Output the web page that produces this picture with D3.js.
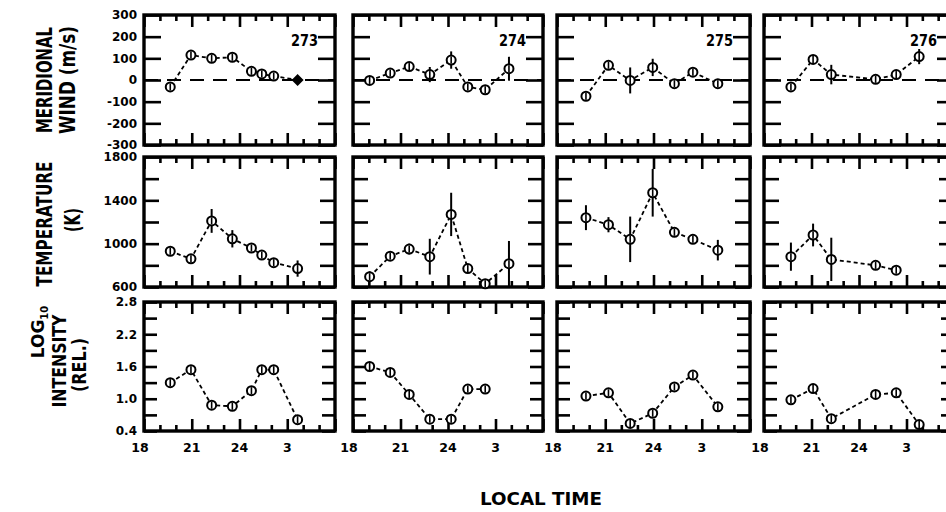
<!DOCTYPE html>
<html>
<head>
<meta charset="utf-8">
<script src="https://cdn.jsdelivr.net/npm/d3@7"></script>
<style>
body { margin: 0; background: #fff; }
svg { display: block; }
.lbl { font-family: "DejaVu Sans", sans-serif; font-weight: bold; fill: #000; }
</style>
</head>
<body>
<svg id="chart" width="946" height="512"></svg>
<script>
// nights (day of year) shown in the four columns
var nights = ["273", "274", "275", "276"];

// local time of each observation, hours after 18 (24 = midnight, 27 = 3 am)
var hours = [
    [19.65, 20.95, 22.25, 23.55, 24.75, 25.4, 26.15, 27.65],
    [19.05, 20.35, 21.55, 22.85, 24.2, 25.25, 26.35, 27.85],
    [19.8, 21.2, 22.55, 23.95, 25.3, 26.45, 28.0],
    [19.7, 21.1, 22.25, 25.05, 26.35, 27.8]
];

// meridional wind (m/s) and error half-widths
var wind = [
    [-32, 115, 100, 105, 40, 28, 18, 0],
    [-2, 32, 62, 25, 92, -32, -45, 52],
    [-75, 68, -2, 58, -17, 36, -17],
    [-32, 95, 25, 3, 25, 108]
];
var windErr = [
    [0, 0, 0, 0, 0, 0, 0, 12],
    [0, 10, 0, 35, 40, 0, 0, 55],
    [0, 10, 60, 40, 0, 0, 0],
    [0, 12, 45, 0, 0, 35]
];
// the one solid marker (night 273, last point)
var filledWind = [0, 7];

// temperature (K) and error half-widths
var temp = [
    [930, 860, 1210, 1045, 960, 895, 825, 770],
    [695, 885, 950, 880, 1270, 770, 630, 815],
    [1240, 1175, 1040, 1470, 1105, 1040, 940],
    [880, 1080, 855, 800, 755, null]
];
var tempErr = [
    [20, 0, 110, 80, 0, 0, 0, 75],
    [50, 0, 50, 165, 200, 30, 0, 210],
    [115, 70, 210, 220, 0, 0, 95],
    [130, 105, 200, 0, 0, 0]
];

// log10 intensity (relative)
var intensity = [
    [1.30, 1.54, 0.88, 0.86, 1.15, 1.54, 1.54, 0.61],
    [1.60, 1.49, 1.08, 0.62, 0.62, 1.18, 1.18, null],
    [1.05, 1.11, 0.54, 0.73, 1.22, 1.44, 0.85],
    [0.98, 1.19, 0.63, 1.08, 1.11, 0.52]
];

// axes
var hourTicks = d3.range(18, 31);
var hourLabelValues = [18, 21, 24, 27];
var hourLabelText = ["18", "21", "24", "3"];
var windTicks = [-300, -200, -100, 0, 100, 200, 300];
var tempTicks = [600, 800, 1000, 1200, 1400, 1600, 1800];
var tempLabels = [600, 1000, 1400, 1800];
var intTicks = [0.4, 0.7, 1.0, 1.3, 1.6, 1.9, 2.2, 2.5, 2.8];
var intLabels = [0.4, 1.0, 1.6, 2.2, 2.8];

var svg = d3.select("#chart");

var colLeft = [144, 353, 557, 764];
var colWidth = [191, 190, 193, 190];

var rows = [
    { top: 15, bottom: 145, domain: [-300, 300], values: wind, err: windErr,
      ticks: windTicks, labels: windTicks, fmt: function (d) { return String(d); }, tickLen: 17 },
    { top: 157, bottom: 287, domain: [600, 1800], values: temp, err: tempErr,
      ticks: tempTicks, labels: tempLabels, fmt: function (d) { return String(d); }, tickLen: 15 },
    { top: 302, bottom: 431, domain: [0.4, 2.8], values: intensity, err: null,
      ticks: intTicks, labels: intLabels, fmt: d3.format(".1f"), tickLen: 13 }
];

rows.forEach(function (row, ri) {
    var h = row.bottom - row.top;
    nights.forEach(function (night, c) {
        var w = colWidth[c];
        var g = svg.append("g").attr("transform", "translate(" + colLeft[c] + "," + row.top + ")");
        var x = d3.scaleLinear().domain([18, 30]).range([0, w]);
        var y = d3.scaleLinear().domain(row.domain).range([h, 0]);

        // inward ticks on all four sides
        var tickStyle = function (sel) {
            sel.select(".domain").remove();
            sel.selectAll(".tick line").attr("stroke", "#000").attr("stroke-width", 2.6);
            sel.selectAll(".tick text").remove();
        };
        g.append("g").call(d3.axisRight(y).tickValues(row.ticks).tickSize(row.tickLen).tickSizeOuter(0)).call(tickStyle);
        g.append("g").attr("transform", "translate(" + w + ",0)")
            .call(d3.axisLeft(y).tickValues(row.ticks).tickSize(row.tickLen).tickSizeOuter(0)).call(tickStyle);
        var minor = hourTicks.filter(function (t) { return t % 3 !== 0; });
        var major = hourTicks.filter(function (t) { return t % 3 === 0; });
        g.append("g").call(d3.axisBottom(x).tickValues(minor).tickSize(6).tickSizeOuter(0)).call(tickStyle);
        g.append("g").call(d3.axisBottom(x).tickValues(major).tickSize(12).tickSizeOuter(0)).call(tickStyle);
        g.append("g").attr("transform", "translate(0," + h + ")")
            .call(d3.axisTop(x).tickValues(minor).tickSize(6).tickSizeOuter(0)).call(tickStyle);
        g.append("g").attr("transform", "translate(0," + h + ")")
            .call(d3.axisTop(x).tickValues(major).tickSize(12).tickSizeOuter(0)).call(tickStyle);

        // zero line for wind, plus the night number
        if (ri === 0) {
            g.append("line")
                .attr("x1", 0).attr("x2", w)
                .attr("y1", y(0)).attr("y2", y(0))
                .attr("stroke", "#000").attr("stroke-width", 2)
                .attr("stroke-dasharray", "14,9");
            g.append("text").attr("class", "lbl")
                .attr("x", w - 17).attr("y", 31)
                .attr("text-anchor", "end")
                .attr("font-size", 15)
                .attr("textLength", 27).attr("lengthAdjust", "spacingAndGlyphs")
                .text(night);
        }

        // frame
        g.append("rect")
            .attr("width", w).attr("height", h)
            .attr("fill", "none").attr("stroke", "#000").attr("stroke-width", 3.4);

        // points
        var pts = hours[c].map(function (t, i) {
            return { t: t, v: row.values[c][i], e: row.err ? row.err[c][i] : 0, i: i };
        }).filter(function (d) { return d.v != null; });

        var line = d3.line().x(function (d) { return x(d.t); }).y(function (d) { return y(d.v); });
        g.append("path").datum(pts)
            .attr("d", line)
            .attr("fill", "none").attr("stroke", "#000")
            .attr("stroke-width", 1.8).attr("stroke-dasharray", "4,3");

        g.selectAll(".err").data(pts.filter(function (d) { return d.e > 0; }))
            .enter().append("line")
            .attr("x1", function (d) { return x(d.t); }).attr("x2", function (d) { return x(d.t); })
            .attr("y1", function (d) { return y(d.v - d.e); })
            .attr("y2", function (d) { return y(d.v + d.e); })
            .attr("stroke", "#000").attr("stroke-width", 2);

        var mk = g.selectAll(".mk").data(pts).enter().append("g")
            .attr("transform", function (d) { return "translate(" + x(d.t) + "," + y(d.v) + ")"; });
        mk.each(function (d) {
            var s = d3.select(this);
            if (ri === 0 && c === filledWind[0] && d.i === filledWind[1]) {
                s.append("path").attr("d", "M0,-6L6,0L0,6L-6,0Z").attr("fill", "#000");
                return;
            }
            s.append("circle").attr("r", 4.5)
                .attr("fill", "#fff").attr("stroke", "#000").attr("stroke-width", 2);
            s.append("line").attr("y1", -3.5).attr("y2", 3.5)
                .attr("stroke", "#000").attr("stroke-width", 1.6);
        });

        // tick labels
        if (c === 0) {
            g.selectAll(".yl").data(row.labels).enter().append("text")
                .attr("class", "lbl")
                .attr("x", -7).attr("y", function (d) { return y(d); })
                .attr("dy", "0.36em").attr("text-anchor", "end")
                .attr("font-size", 12)
                .text(row.fmt);
        }
        if (ri === 2) {
            g.selectAll(".xl").data(hourLabelValues).enter().append("text")
                .attr("class", "lbl")
                .attr("x", function (d) { return x(d) - (d === 18 ? 4 : 0); })
                .attr("y", h + 21)
                .attr("text-anchor", "middle")
                .attr("font-size", 12.5)
                .text(function (d, i) { return hourLabelText[i]; });
        }
    });
});

// row titles (rotated)
function vtext(cx, cy, str, len, size) {
    var t = svg.append("text").attr("class", "lbl")
        .attr("transform", "translate(" + cx + "," + cy + ") rotate(-90)")
        .attr("text-anchor", "middle").attr("dy", "0.36em")
        .attr("font-size", size)
        .text(str);
    if (len) t.attr("textLength", len).attr("lengthAdjust", "spacingAndGlyphs");
    return t;
}
vtext(44, 80, "MERIDIONAL", 106, 22);
vtext(67, 80, "WIND  (m/s)", 108, 21);
vtext(44, 224, "TEMPERATURE", 125, 22);
vtext(72, 220, "(K)", 24, 21);
var log = svg.append("text").attr("class", "lbl")
    .attr("transform", "translate(38,332) rotate(-90)")
    .attr("text-anchor", "middle").attr("dy", "0.36em")
    .attr("font-size", 17);
log.append("tspan").text("LOG");
log.append("tspan").attr("font-size", 10).attr("dy", "0.35em").text("10");
vtext(59, 361, "INTENSITY", 93, 19);
vtext(79, 365, "(REL.)", 54, 19);

svg.append("text").attr("class", "lbl")
    .attr("x", 541).attr("y", 505)
    .attr("text-anchor", "middle")
    .attr("font-size", 17)
    .attr("textLength", 122).attr("lengthAdjust", "spacingAndGlyphs")
    .text("LOCAL  TIME");
</script>
</body>
</html>
